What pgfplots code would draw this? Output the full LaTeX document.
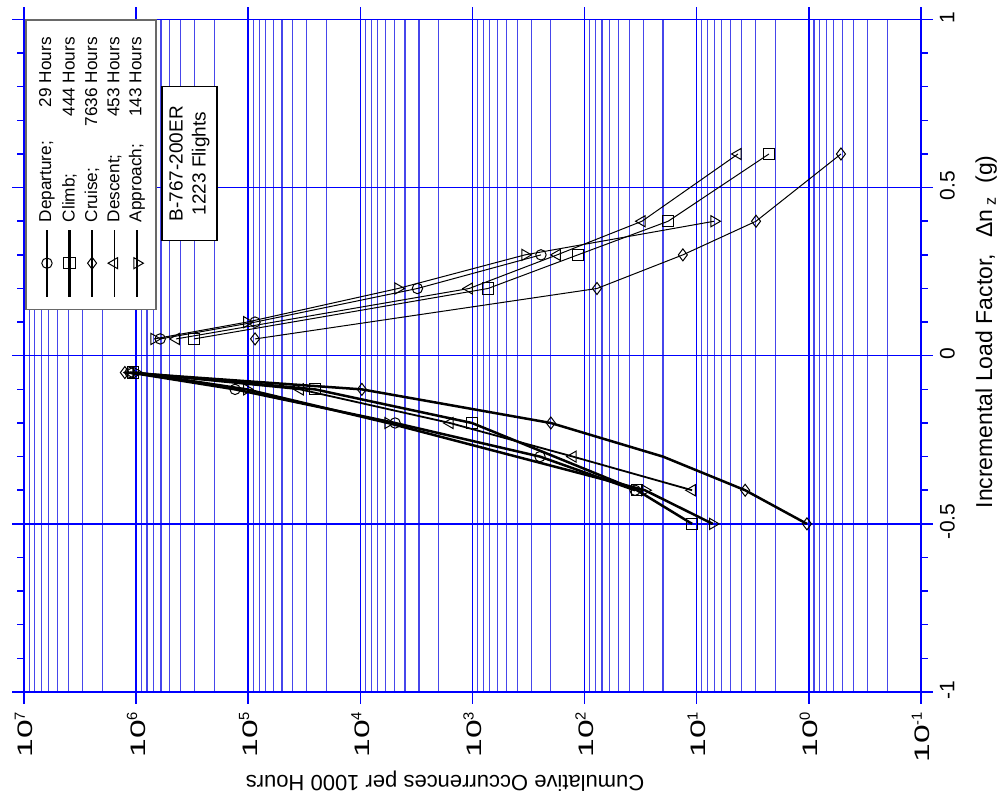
\documentclass[border=0pt]{standalone}
\usepackage{pgfplots}
\pgfplotsset{compat=1.18}
\usepackage{fontspec}
\setmainfont{Liberation Sans}
\newfontfamily\widefont[FakeStretch=1.6]{Liberation Sans}
\definecolor{gmaj}{RGB}{0,0,255}
\definecolor{gmin}{RGB}{70,70,235}
\definecolor{lgray}{RGB}{105,105,105}
\pgfplotsset{
  dep/.style={black, mark=o, mark size=2.6pt, mark options={solid, line width=0.5pt}},
  clb/.style={black, mark=square, mark size=2.8pt, mark options={solid, line width=0.5pt}},
  crs/.style={black, mark=diamond, mark size=3pt, mark options={solid, line width=0.5pt}},
  dsc/.style={black, mark=triangle, mark size=3.2pt, mark options={solid, line width=0.5pt, rotate=90}},
  apr/.style={black, mark=triangle, mark size=3.2pt, mark options={solid, line width=0.5pt, rotate=-90}},
  neg/.style={line width=1.25pt},
  pos/.style={line width=0.5pt},
}
\newcommand{\tl}[1]{{\widefont 10}\textsuperscript{#1}}
\newcommand{\lgtext}[2]{\makebox[92.5pt][l]{#1\hfill #2 Hours}}
\begin{document}
\begin{tikzpicture}
\useasboundingbox (-12pt,-55.5pt) rectangle (492pt,346pt);
\begin{axis}[
  at={(0,0)}, anchor=south west,
  width=448.5pt, height=336.25pt, scale only axis,
  xmode=log, x dir=reverse, xmin=0.1, xmax=1e7,
  ymin=-1, ymax=1,
  clip=false,
  xtick={1e-1,1,1e1,1e2,1e3,1e4,1e5,1e6,1e7},
  xticklabels={\tl{-1},\tl{0},\tl{1},\tl{2},\tl{3},\tl{4},\tl{5},\tl{6},\tl{7}},
  ytick={-1,-0.5,0,0.5,1},
  yticklabels={-1,-0.5,0,0.5,1},
  extra y ticks={-0.9,-0.8,-0.7,-0.6,-0.4,-0.3,-0.2,-0.1,0.1,0.2,0.3,0.4,0.6,0.7,0.8,0.9},
  extra y tick labels={},
  extra y tick style={major tick length=3.5pt, grid=none},
  tick align=outside,
  major tick length=6pt,
  minor tick length=0pt,
  xmajorgrids, xminorgrids, ymajorgrids,
  major grid style={gmaj, line width=0.75pt},
  minor grid style={gmin, line width=0.6pt},
  tick style={gmaj, line width=0.75pt},
  axis line style={gmaj, line width=0.75pt},
  yticklabel pos=right,
  xticklabel style={rotate=90, anchor=east, font=\fontsize{10.5}{12}\selectfont},
  yticklabel style={rotate=90, anchor=north, xshift=1pt, font=\fontsize{10.5}{12}\selectfont},
]
% Departure
\addplot[dep, neg] table {
N dnz
35.5 -0.4
250 -0.3
4900 -0.2
131000 -0.1
1130000 -0.05
};
\addplot[dep, pos] table {
N dnz
610000 0.05
87000 0.1
3100 0.2
245 0.3
};
% Climb
\addplot[clb, neg] table {
N dnz
11.0 -0.5
34.1 -0.4
1010 -0.2
25400 -0.1
1070000 -0.05
};
\addplot[clb, pos] table {
N dnz
305000 0.05
728 0.2
115 0.3
18.0 0.4
2.27 0.6
};
% Cruise
\addplot[crs, neg, mark indices={1,2,4,5,6}] table {
N dnz
1.04 -0.5
3.7 -0.4
20 -0.3
200 -0.2
9700 -0.1
1260000 -0.05
};
\addplot[crs, pos] table {
N dnz
87000 0.05
77.6 0.2
13.3 0.3
2.96 0.4
0.517 0.6
};
% Descent
\addplot[dsc, line width=0.9pt] table {
N dnz
11.0 -0.4
127 -0.3
1590 -0.2
34500 -0.1
1130000 -0.05
};
\addplot[dsc, pos] table {
N dnz
440000 0.05
1070 0.2
176 0.3
30.8 0.4
4.29 0.6
};
% Approach
\addplot[apr, neg] table {
N dnz
7.2 -0.5
29 -0.4
5670 -0.2
103000 -0.1
1000000 -0.05
};
\addplot[apr, pos] table {
N dnz
690000 0.05
103000 0.1
4600 0.2
340 0.3
7.0 0.4
};

% Legend (drawn in the rotated frame of the chart)
\draw[lgray, line width=0.75pt, fill=white] (axis cs:9.6e6,0.137) rectangle (axis cs:6.65e5,0.9985);
\addplot[dep, line width=1.25pt, mark indices={2}] coordinates {(6.237e6,0.1756) (6.237e6,0.2753) (6.237e6,0.375)};
\addplot[clb, line width=1.25pt, mark indices={2}] coordinates {(3.93e6,0.1756) (3.93e6,0.2753) (3.93e6,0.375)};
\addplot[crs, line width=1.25pt, mark indices={2}] coordinates {(2.47e6,0.1756) (2.47e6,0.2753) (2.47e6,0.375)};
\addplot[dsc, line width=0.75pt, mark indices={2}] coordinates {(1.56e6,0.1756) (1.56e6,0.2753) (1.56e6,0.375)};
\addplot[apr, line width=1.25pt, mark indices={2}] coordinates {(9.82e5,0.1756) (9.82e5,0.2753) (9.82e5,0.375)};
\begin{scope}[every node/.style={rotate=90, anchor=west, inner sep=0pt, font=\fontsize{8.6}{10}\selectfont}]
\node at (axis cs:6.237e6,0.396) {\lgtext{Departure;}{29}};
\node at (axis cs:3.93e6,0.396) {\lgtext{Climb;}{444}};
\node at (axis cs:2.47e6,0.396) {\lgtext{Cruise;}{7636}};
\node at (axis cs:1.56e6,0.396) {\lgtext{Descent;}{453}};
\node at (axis cs:9.82e5,0.396) {\lgtext{Approach;}{143}};
\end{scope}

\node[draw=black, fill=white, line width=0.6pt, rotate=90, align=center, minimum width=77pt, minimum height=27.5pt, inner sep=1pt, font=\fontsize{9.5}{11.5}\selectfont] at (axis cs:3.34e5,0.571) {B-767-200ER\\1223 Flights};

\node[rotate=180, font=\fontsize{11}{13}\selectfont] at (axis cs:1758,-1.265) {Cumulative Occurrences per 1000 Hours};
\node[rotate=90, font=\fontsize{11.5}{13}\selectfont] at (axis cs:0.0262,0.071) {Incremental Load Factor,~~\,Δn\,\textsubscript{z}~~(g)};
\end{axis}
\end{tikzpicture}
\end{document}
